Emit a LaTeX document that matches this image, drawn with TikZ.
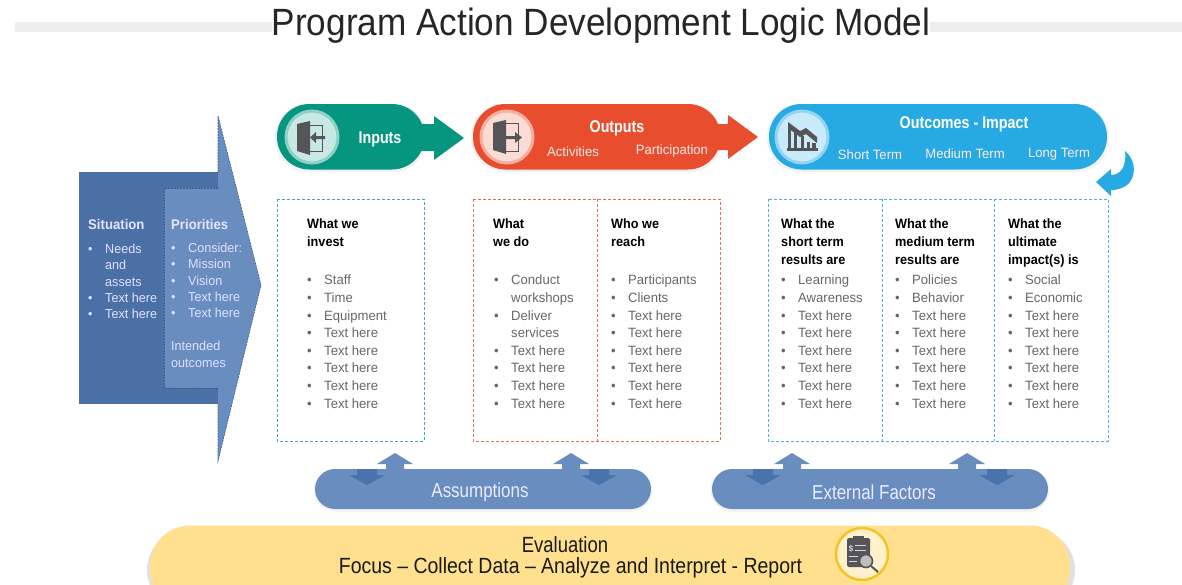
\documentclass[tikz,border=0pt]{standalone}
\usepackage{fontspec}
\setmainfont[FakeStretch=0.97]{Liberation Sans}
\newfontfamily\headfont[FakeStretch=0.84]{Liberation Sans}
\newfontfamily\colheadfont[FakeStretch=0.94]{Liberation Sans}
\newfontfamily\titlefont[FakeStretch=0.925]{Liberation Sans}
\newfontfamily\focusfont[FakeStretch=0.885]{Liberation Sans}
\usetikzlibrary{calc}
\definecolor{teal1}{HTML}{069680}
\definecolor{red1}{HTML}{E84E2E}
\definecolor{sky1}{HTML}{27A9E3}
\definecolor{blue1}{HTML}{4A70A6}
\definecolor{blue2}{HTML}{6A8DBF}
\definecolor{blue3}{HTML}{4A72AC}
\definecolor{yel1}{HTML}{FFE08E}
\definecolor{ringyel}{HTML}{F5C227}
\definecolor{grayt}{HTML}{666666}
\definecolor{icon1}{HTML}{555558}
\newcommand{\bl}[1]{\makebox[17pt][l]{\textbullet}#1\\}
\newcommand{\cl}[1]{\hspace*{17pt}#1\\}
\newcommand{\mybody}{\fontsize{13.5}{17.6}\selectfont}
\tikzset{
  x=1pt,y=-1pt,
  bodylist/.style={anchor=north west,inner sep=0pt,align=left,text=grayt,font=\mybody},
  headlist/.style={anchor=north west,inner sep=0pt,align=left,text=black,font=\colheadfont\bfseries\fontsize{13.5}{17.6}\selectfont},
  whitelist/.style={anchor=north west,inner sep=0pt,align=left,text=white!88!blue,font=\mybody},
  whitehead/.style={anchor=north west,inner sep=0pt,align=left,text=white!90!blue,font=\colheadfont\bfseries\fontsize{14}{17}\selectfont},
  pilltitle/.style={text=white,font=\headfont\bfseries\fontsize{17}{20}\selectfont,inner sep=0pt},
  pillsub/.style={text=white!92!red,font=\fontsize{13.5}{16}\selectfont,inner sep=0pt},
  bandtext/.style={text=white!92!blue,font=\headfont\fontsize{20.2}{22}\selectfont,inner sep=0pt},
  tealbox/.style={draw=teal1!55!sky1!85!white,dash pattern=on 3pt off 2pt,line width=0.8pt},
  redbox/.style={draw=red1!85!white,dash pattern=on 3pt off 2pt,line width=0.7pt},
  skybox/.style={draw=sky1!85!white,dash pattern=on 3pt off 2pt,line width=0.7pt},
  softshadow/.style={fill=black,opacity=0.05},
  iconring/.style={circle,minimum size=52pt,inner sep=0pt,line width=3pt},
}
\begin{document}
\begin{tikzpicture}
\useasboundingbox (0,0) rectangle (1182,584);
\clip (0,0) rectangle (1182,584);
% title band
\fill[black!7] (15,22) rectangle (1182,32);
\node[fill=white,inner sep=0pt,minimum width=658pt,minimum height=40pt,font=\titlefont\fontsize{38}{40}\selectfont,text=black!85] (title) at (601,26) {Program Action Development Logic Model};

% left block
\fill[blue1] (79,172) rectangle (218,404);
\fill[blue2] (218,116) -- (261,285) -- (218,461) -- cycle;
\draw[blue1!80!black,dash pattern=on 2pt off 1pt,line width=0.6pt] (218,172) -- (218,116) -- (261,285) -- (218,461) -- (218,404);
\fill[blue2] (164,188) rectangle (218,388);
\draw[blue1!80!black,dash pattern=on 2pt off 1pt,line width=0.6pt] (218,188) -- (164,188) -- (164,388) -- (218,388);
\node[whitehead] (situation) at (88,219) {Situation};
\node[whitelist,font=\fontsize{13}{16.2}\selectfont] (sitlist) at (88,244) {\bl{Needs}\cl{and}\cl{assets}\bl{Text here}\bl{Text here}};
\node[whitehead] (priorities) at (171,219) {Priorities};
\node[whitelist,font=\fontsize{13}{16.2}\selectfont] (prilist) at (171,243) {\bl{Consider:}\bl{Mission}\bl{Vision}\bl{Text here}\bl{Text here}};
\node[whitelist,font=\fontsize{13}{17.6}\selectfont] (intended) at (171,340.5) {Intended\\outcomes};

% inputs header
\fill[softshadow,rounded corners=33pt] (275,104) rectangle (426.5,172);
\fill[teal1,rounded corners=32.5pt] (277,104) rectangle (424.5,169.5);
\fill[teal1] (415,124) -- (434,124) -- (434,116) -- (464,138) -- (434,160) -- (434,151) -- (415,151) -- cycle;
\node[iconring,fill=teal1!22!white,draw=teal1!45!white] (inicon) at (312,137) {};
\draw[icon1,line width=0.9pt] (308,125) rectangle (322,151);
\fill[icon1] (297,124) -- (310,121) -- (310,155) -- (297,151) -- cycle;
\fill[icon1] (325,136) -- (316,136) -- (316,132) -- (310,137.5) -- (316,143) -- (316,139) -- (325,139) -- cycle;
\node[pilltitle] (inputs) at (380,139) {Inputs};

% outputs header
\fill[softshadow,rounded corners=33pt] (471,104) rectangle (722.5,172);
\fill[red1,rounded corners=32.5pt] (473,104) rectangle (720.5,169.5);
\fill[red1] (712,124) -- (728,124) -- (728,115) -- (758,137) -- (728,159) -- (728,150) -- (712,150) -- cycle;
\node[iconring,fill=red1!20!white,draw=red1!45!white] (outicon) at (507,137) {};
\draw[icon1,line width=0.9pt] (503,123) rectangle (518,151);
\fill[icon1] (493,123) -- (506,120) -- (506,154) -- (493,150) -- cycle;
\fill[icon1] (506,136) -- (515,136) -- (515,132) -- (522,137.5) -- (515,143) -- (515,139) -- (506,139) -- cycle;
\node[pilltitle] (outputs) at (617,128) {Outputs};
\node[pillsub] (activities) at (573,151.5) {Activities};
\node[pillsub] (participation) at (672,151.5) {Participation};

% outcomes header
\fill[softshadow,rounded corners=33pt] (767,104) rectangle (1109,172);
\fill[sky1,rounded corners=32.5pt] (769,104) rectangle (1107,169.5);
\node[iconring,fill=sky1!25!white,draw=sky1!50!white] (outcicon) at (802,137) {};
\fill[icon1] (788,122) -- (800,131) -- (806,128) -- (817,137) -- (817,143) -- (806,134) -- (800,137) -- (788,128) -- cycle;
\fill[icon1] (788,128) rectangle (791,148);
\fill[icon1] (794,133) rectangle (797,148);
\fill[icon1] (801,136) rectangle (804,148);
\fill[icon1] (807,142) rectangle (810,148);
\fill[icon1] (812,143) rectangle (816,148);
\fill[icon1] (787,148) rectangle (818,150.5);
\node[pilltitle] (outcomes) at (964,124) {Outcomes - Impact};
\node[pillsub] (shortterm) at (870,154.5) {Short Term};
\node[pillsub] (mediumterm) at (965,153.5) {Medium Term};
\node[pillsub] (longterm) at (1059,154.5) {Long Term};
% curved arrow
\fill[sky1] (1096,182) -- (1111,169) -- (1111,175) .. controls (1120,175) and (1127,167) .. (1125,151) .. controls (1134,158) and (1137,172) .. (1130,182) .. controls (1125,188) and (1118,190) .. (1111,190) -- (1111,196) -- cycle;

% boxes
\draw[tealbox] (277,199) rectangle (424,441);
\draw[redbox] (473,199) rectangle (720,441);
\draw[redbox] (597,199) -- (597,441);
\draw[skybox] (768,199) rectangle (1108,441);
\draw[skybox] (882,199) -- (882,441);
\draw[skybox] (994,199) -- (994,441);

% column text
\node[headlist] (h1) at (307,219) {What we\\invest};
\node[bodylist] (l1) at (307,275) {\bl{Staff}\bl{Time}\bl{Equipment}\bl{Text here}\bl{Text here}\bl{Text here}\bl{Text here}\bl{Text here}};
\node[headlist] (h2) at (493,219) {What\\we do};
\node[bodylist] (l2) at (494,275) {\bl{Conduct}\cl{workshops}\bl{Deliver}\cl{services}\bl{Text here}\bl{Text here}\bl{Text here}\bl{Text here}};
\node[headlist] (h3) at (611,219) {Who we\\reach};
\node[bodylist] (l3) at (611,275) {\bl{Participants}\bl{Clients}\bl{Text here}\bl{Text here}\bl{Text here}\bl{Text here}\bl{Text here}\bl{Text here}};
\node[headlist] (h4) at (781,219) {What the\\short term\\results are};
\node[bodylist] (l4) at (781,275) {\bl{Learning}\bl{Awareness}\bl{Text here}\bl{Text here}\bl{Text here}\bl{Text here}\bl{Text here}\bl{Text here}};
\node[headlist] (h5) at (895,219) {What the\\medium term\\results are};
\node[bodylist] (l5) at (895,275) {\bl{Policies}\bl{Behavior}\bl{Text here}\bl{Text here}\bl{Text here}\bl{Text here}\bl{Text here}\bl{Text here}};
\node[headlist] (h6) at (1008,219) {What the\\ultimate\\impact(s) is};
\node[bodylist] (l6) at (1008,275) {\bl{Social}\bl{Economic}\bl{Text here}\bl{Text here}\bl{Text here}\bl{Text here}\bl{Text here}\bl{Text here}};

% assumptions and external factors
\foreach \xa/\xb in {315/651,712/1048}{
  \fill[softshadow,rounded corners=21pt] (\xa-1.5,470) rectangle (\xb+1.5,511.5);
  \fill[blue2,rounded corners=20pt] (\xa,469) rectangle (\xb,509);
}
\foreach \u in {395,571,792,967}{
  \fill[blue2] (\u-9,470) -- (\u-9,464) -- (\u-18,464) -- (\u,453) -- (\u+18,464) -- (\u+9,464) -- (\u+9,470) -- cycle;
}
\foreach \d in {367,599,763,997}{
  \fill[blue3] (\d-10,469) -- (\d+10,469) -- (\d+10,475) -- (\d+18,475) -- (\d,485) -- (\d-18,475) -- (\d-10,475) -- cycle;
}
\node[bandtext] (assumptions) at (480,492) {Assumptions};
\node[bandtext] (external) at (874,492) {External Factors};

% evaluation
\fill[black!30,rounded corners=40pt,opacity=.4] (147,530) rectangle (1075,610);
\fill[yel1,rounded corners=40pt] (150,525.5) rectangle (1070,610);
\node[inner sep=0pt,font=\headfont\fontsize{22}{25}\selectfont,text=black!90] (evaluation) at (565,545) {Evaluation};
\node[inner sep=0pt,font=\focusfont\fontsize{22}{25}\selectfont,text=black!90] (focus) at (570.5,568) {Focus – Collect Data – Analyze and Interpret - Report};
\node[circle,minimum size=52pt,inner sep=0pt,line width=2.5pt,fill=yel1!45!white,draw=ringyel] (evalicon) at (862,554) {};
\fill[icon1,rounded corners=1.5pt] (847,538) rectangle (870,567);
\fill[icon1] (853,536) rectangle (864,540);
\draw[white!85!black,line width=1pt] (855,545) -- (866,545) (855,550) -- (866,550) (849,556) -- (858,556) (849,561) -- (857,561);
\node[inner sep=0pt,font=\fontsize{8}{8}\selectfont,text=white] (dollar) at (851,549) {\$};
\draw[icon1,line width=1.6pt,fill=white!75!black] (866,561) circle (6.5);
\draw[icon1,line width=2pt] (871,566) -- (878,572);
\end{tikzpicture}
\end{document}
